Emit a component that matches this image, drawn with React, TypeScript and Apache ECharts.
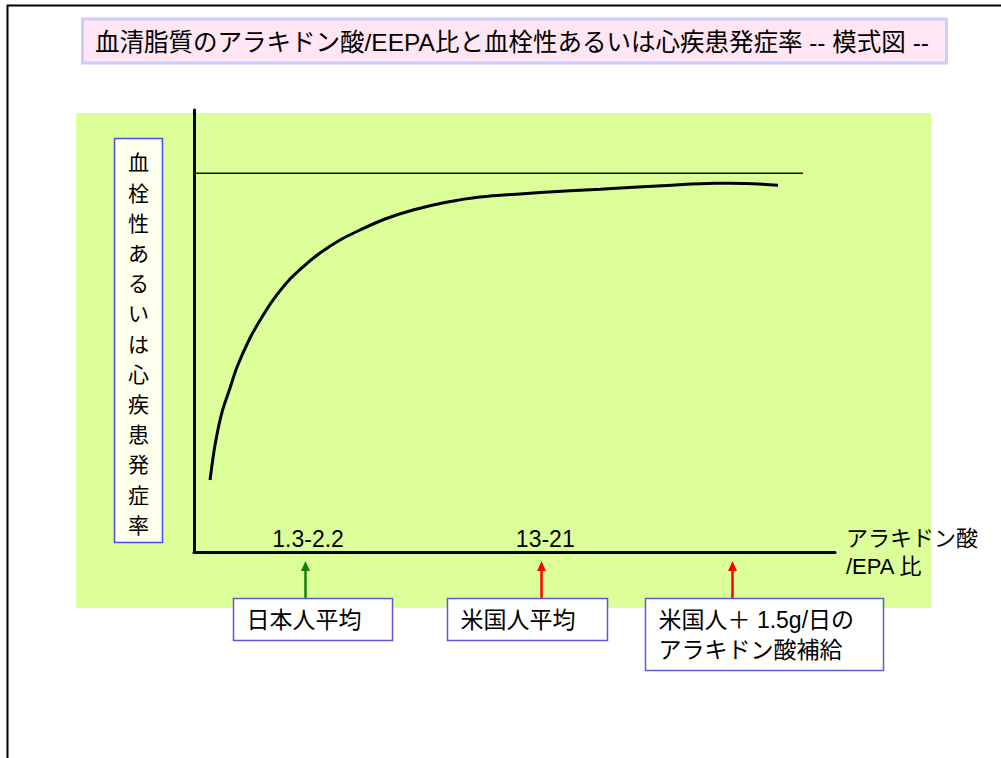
import React, { useEffect, useRef } from 'react';
import * as echarts from 'echarts';

// Schematic curve: arachidonic acid / EPA ratio (x, 0-100 schematic) vs. thrombosis / heart disease incidence (y, 0-100 schematic)
const curveX = [2.5, 3.28, 4.37, 5.62, 6.71, 8.74, 10.61, 12.32, 14.98, 17.32, 19.66, 22.78, 25.9, 29.8, 34.17, 39.16, 44.62, 53.98, 63.34, 73.79, 81.28, 85.96, 91.11];
const curveY = [16.29, 24.21, 31.67, 37.1, 41.86, 48.42, 53.17, 57.01, 61.76, 64.93, 67.65, 70.59, 72.85, 75.34, 77.38, 79.07, 80.32, 81.33, 82.06, 82.92, 83.42, 83.39, 82.96];

// Plateau reference line
const plateauX = [0, 95];
const plateauY = [85.7, 85.7];

// Range labels on the x axis
const tickValues = [17.8, 54.8];
const tickLabels = ['1.3-2.2', '13-21'];

// Annotated groups (arrows + boxes)
const markerX = [17.3, 54.1, 83.9];
const markerLabels = ['日本人平均', '米国人平均', '米国人＋ 1.5g/日の\nアラキドン酸補給'];

// Styles
const markerColors = ['#0f7f0f', '#ff0000', '#ff0000'];
const boxStyles = [
  { dx: -72, w: 159, h: 42 },
  { dx: -94, w: 160, h: 42 },
  { dx: -87, w: 238, h: 72 },
];

const FONT = '"Liberation Sans", "Noto Sans CJK JP", sans-serif';
const yName = '血栓性あるいは心疾患発症率';
const title = '血清脂質のアラキドン酸/EEPA比と血栓性あるいは心疾患発症率 -- 模式図 --';

export default function App() {
  const ref = useRef<HTMLDivElement>(null);
  useEffect(() => {
    document.body.style.margin = '0';
    const chart = echarts.init(ref.current!, null, { renderer: 'svg' });
    chart.setOption({
      animation: false,
      backgroundColor: '#ffffff',
      grid: { left: 194, top: 110, width: 641, height: 442 },
      xAxis: {
        type: 'value',
        min: 0,
        max: 100,
        axisLine: { show: true, lineStyle: { color: '#000', width: 3 } },
        axisTick: { show: false },
        splitLine: { show: false },
        axisLabel: {
          inside: true,
          customValues: tickValues,
          formatter: (v: number) => {
            const i = tickValues.indexOf(v);
            return i >= 0 ? tickLabels[i] : '';
          },
          fontSize: 23,
          fontFamily: FONT,
          color: '#000',
          margin: 2,
        },
        name: 'アラキドン酸\n/EPA 比',
        nameLocation: 'end',
        nameGap: 11,
        nameTextStyle: {
          fontSize: 22,
          lineHeight: 28,
          fontFamily: FONT,
          color: '#000',
          align: 'left',
          verticalAlign: 'middle',
        },
      },
      yAxis: {
        type: 'value',
        min: 0,
        max: 100,
        axisLine: { show: true, lineStyle: { color: '#000', width: 3 } },
        axisTick: { show: false },
        axisLabel: { show: false },
        splitLine: { show: false },
      },
      series: [
        {
          type: 'line',
          name: 'plateau',
          data: plateauX.map((x, i) => [x, plateauY[i]]),
          symbol: 'none',
          lineStyle: { color: '#111', width: 1.5 },
          z: 3,
        },
        {
          type: 'line',
          name: 'curve',
          data: curveX.map((x, i) => [x, curveY[i]]),
          symbol: 'none',
          smooth: 0.3,
          lineStyle: { color: '#000', width: 3 },
          z: 4,
        },
      ],
    });

    const y0 = (chart.convertToPixel({ gridIndex: 0 }, [0, 0]) as number[])[1];
    const elements: any[] = [
      {
        type: 'rect',
        z: -100,
        silent: true,
        shape: { x: 76, y: 113, width: 855, height: 495 },
        style: { fill: '#ddff99' },
      },
      {
        type: 'rect',
        z: -50,
        shape: { x: 7.5, y: 5.5, width: 1100, height: 1000 },
        style: { fill: 'none', stroke: '#000', lineWidth: 2 },
      },
      {
        type: 'rect',
        shape: { x: 82.5, y: 19, width: 864, height: 44 },
        style: { fill: '#ffe6f2', stroke: '#ccccff', lineWidth: 3 },
      },
      {
        type: 'text',
        style: {
          text: title,
          x: 512,
          y: 42,
          font: `24.5px ${FONT}`,
          fill: '#000',
          align: 'center',
          verticalAlign: 'middle',
          textAlign: 'center',
          textVerticalAlign: 'middle',
        },
      },
      {
        type: 'rect',
        shape: { x: 114.5, y: 138.5, width: 48, height: 404 },
        style: { fill: '#ffffee', stroke: '#4a4aee', lineWidth: 1.5 },
      },
      {
        type: 'text',
        style: {
          text: yName.split('').join('\n'),
          x: 138.5,
          y: 344,
          font: `21px ${FONT}`,
          lineHeight: 30.2,
          fill: '#000',
          align: 'center',
          verticalAlign: 'middle',
          textAlign: 'center',
          textVerticalAlign: 'middle',
        },
      },
    ];

    const boxTop = 598;
    markerX.forEach((mx, i) => {
      const px = Math.round((chart.convertToPixel({ gridIndex: 0 }, [mx, 0]) as number[])[0]) + 0.5;
      const color = markerColors[i];
      const bs = boxStyles[i];
      const tip = y0 + 9;
      elements.push(
        {
          type: 'line',
          shape: { x1: px, y1: boxTop, x2: px, y2: tip + 8 },
          style: { stroke: color, lineWidth: 2.5 },
        },
        {
          type: 'polygon',
          shape: { points: [[px, tip], [px - 4.5, tip + 10], [px + 4.5, tip + 10]] },
          style: { fill: color },
        },
        {
          type: 'rect',
          shape: { x: px + bs.dx, y: boxTop + 0.5, width: bs.w, height: bs.h },
          style: { fill: '#ffffff', stroke: '#5a5ad8', lineWidth: 1.5 },
        },
        {
          type: 'text',
          style: {
            text: markerLabels[i],
            x: px + bs.dx + 13,
            y: boxTop + bs.h / 2 + 1,
            font: `23px ${FONT}`,
            lineHeight: 30,
            fill: '#000',
            align: 'left',
            verticalAlign: 'middle',
            textAlign: 'left',
            textVerticalAlign: 'middle',
          },
        }
      );
    });

    chart.setOption({ graphic: { elements } });
    return () => chart.dispose();
  }, []);
  return <div ref={ref} style={{ width: 1001, height: 758, overflow: 'hidden' }} />;
}
